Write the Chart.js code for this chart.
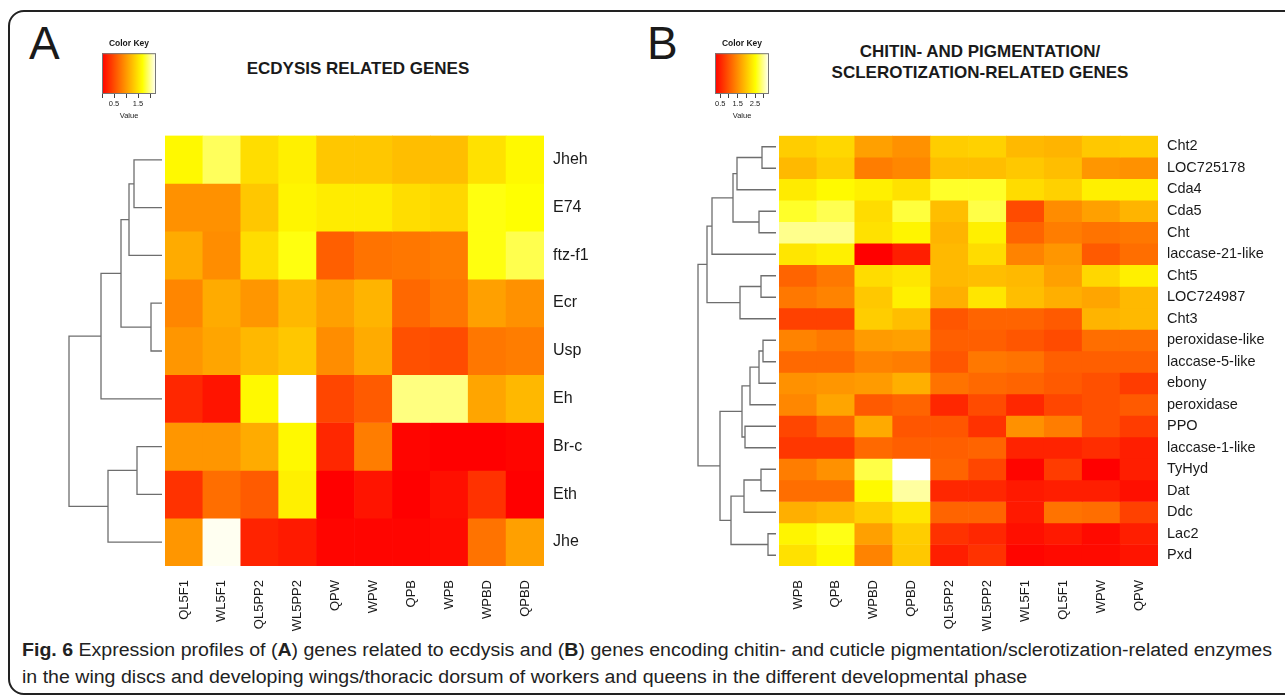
<!DOCTYPE html>
<html>
<head>
<meta charset="utf-8">
<script src="https://cdn.jsdelivr.net/npm/chart.js@4.4.1/dist/chart.umd.min.js"></script>
<style>
  body { margin: 0; width: 1285px; height: 697px; overflow: hidden; position: relative; background: #fff;
         font-family: "Liberation Sans", Arial, sans-serif; color: #1a1a1a; }
  canvas, .abs { position: absolute; }
  #frame { left: 8px; top: 10px; width: 1300px; height: 681px; border: 2px solid #222; border-radius: 16px; }
  .letter { font-size: 46px; line-height: 46px; }
  .title { font-weight: bold; font-size: 17px; line-height: 21px; text-align: center; transform: translateX(-50%); white-space: nowrap; }
  .cap { left: 22px; font-family: "Liberation Sans Narrow", "Liberation Sans", Arial, sans-serif; font-size: 18px;
         white-space: nowrap; transform-origin: 0 0; color: #222; }
</style>
</head>
<body>
<div id="frame" class="abs"></div>
<div class="abs letter" style="left:29px;top:20px;">A</div>
<div class="abs letter" style="left:647px;top:20px;">B</div>
<div class="abs title" style="left:358px;top:58px;">ECDYSIS RELATED GENES</div>
<div class="abs title" style="left:980px;top:41px;">CHITIN- AND PIGMENTATION/<br>SCLEROTIZATION-RELATED GENES</div>

<canvas id="keyA" width="69" height="83"></canvas>
<canvas id="keyB" width="69" height="83"></canvas>
<canvas id="dendA" width="105" height="430"></canvas>
<canvas id="dendB" width="89" height="430"></canvas>
<canvas id="heatA" width="470" height="500"></canvas>
<canvas id="heatB" width="505" height="500"></canvas>

<div id="cap1" class="abs cap" style="top:640px;"><b>Fig. 6</b> Expression profiles of (<b>A</b>) genes related to ecdysis and (<b>B</b>) genes encoding chitin- and cuticle pigmentation/sclerotization-related enzymes</div>
<div id="cap2" class="abs cap" style="top:667px;">in the wing discs and developing wings/thoracic dorsum of workers and queens in the different developmental phase</div>

<script>
// panel A: ecdysis related genes
const genesA = ['Jheh', 'E74', 'ftz-f1', 'Ecr', 'Usp', 'Eh', 'Br-c', 'Eth', 'Jhe'];
const samplesA = ['QL5F1', 'WL5F1', 'QL5PP2', 'WL5PP2', 'QPW', 'WPW', 'QPB', 'WPB', 'WPBD', 'QPBD'];
const valuesA = [
  [1.65, 1.89, 1.46, 1.59, 1.32, 1.32, 1.26, 1.26, 1.49, 1.65],
  [0.96, 0.96, 1.32, 1.62, 1.56, 1.56, 1.46, 1.42, 1.72, 1.69],
  [1.13, 0.93, 1.46, 1.72, 0.63, 0.76, 0.79, 0.83, 1.72, 1.86],
  [0.89, 1.13, 0.99, 1.22, 1.06, 1.19, 0.69, 0.79, 1.06, 0.96],
  [0.99, 1.09, 1.22, 1.32, 0.93, 1.13, 0.53, 0.50, 0.79, 0.83],
  [0.26, 0.13, 1.65, 2.25, 0.46, 0.60, 1.97, 1.97, 1.09, 1.22],
  [0.99, 0.99, 1.13, 1.65, 0.26, 0.83, 0.03, 0.00, 0.00, 0.03],
  [0.33, 0.73, 0.60, 1.59, 0.00, 0.13, 0.00, 0.10, 0.33, 0.00],
  [0.99, 2.22, 0.23, 0.17, 0.03, 0.03, 0.03, 0.07, 0.76, 1.06]
];
// row dendrogram A, hclust style (negative = leaf, positive = earlier merge)
const mergesA = [[-1, -2], [1, -3], [-4, -5], [2, 3], [4, -6], [-7, -8], [6, -9], [5, 7]];
const heightsA = [28, 33, 11, 41, 61, 25, 54, 93];
const keyMinA = 0, keyMaxA = 2.25;
const keyTicksA = [0, 0.5, 1, 1.5, 2];
const keyLabelsA = [0.5, 1.5];

// panel B: chitin and pigmentation/sclerotization genes
const genesB = ['Cht2', 'LOC725178', 'Cda4', 'Cda5', 'Cht', 'laccase-21-like', 'Cht5', 'LOC724987', 'Cht3',
  'peroxidase-like', 'laccase-5-like', 'ebony', 'peroxidase', 'PPO', 'laccase-1-like', 'TyHyd', 'Dat', 'Ddc', 'Lac2', 'Pxd'];
const samplesB = ['WPB', 'QPB', 'WPBD', 'QPBD', 'QL5PP2', 'WL5PP2', 'WL5F1', 'QL5F1', 'WPW', 'QPW'];
const valuesB = [
  [2.07, 2.16, 1.66, 1.52, 2.07, 2.11, 1.89, 1.84, 2.02, 2.07],
  [1.89, 2.07, 1.34, 1.43, 1.93, 1.93, 2.02, 1.93, 1.57, 1.52],
  [2.34, 2.48, 2.39, 2.25, 2.65, 2.65, 2.21, 2.11, 2.39, 2.39],
  [2.65, 2.77, 2.21, 2.71, 1.93, 2.74, 0.88, 1.48, 1.66, 1.84],
  [2.95, 2.95, 2.25, 2.43, 1.84, 2.39, 1.11, 1.34, 1.25, 1.29],
  [2.30, 2.39, 0.20, 0.47, 1.89, 2.21, 1.39, 1.57, 1.02, 1.20],
  [1.11, 1.29, 2.21, 2.30, 1.89, 1.93, 1.89, 1.66, 2.16, 2.39],
  [1.29, 1.39, 2.02, 2.39, 1.80, 2.30, 1.93, 1.80, 1.70, 1.89],
  [0.79, 0.79, 2.07, 1.93, 0.98, 1.11, 1.11, 1.02, 1.84, 1.89],
  [1.39, 1.29, 1.61, 1.66, 1.07, 1.07, 0.98, 0.88, 1.20, 1.20],
  [1.16, 1.16, 1.39, 1.34, 0.98, 1.29, 1.25, 1.07, 1.07, 1.07],
  [1.52, 1.57, 1.61, 1.80, 1.25, 1.16, 1.11, 1.02, 0.93, 0.75],
  [1.43, 1.70, 1.02, 1.11, 0.56, 0.88, 0.56, 0.84, 0.93, 1.02],
  [0.84, 1.11, 1.75, 0.98, 0.98, 0.66, 1.52, 1.34, 0.93, 0.75],
  [0.70, 0.70, 1.16, 1.07, 1.07, 1.11, 0.52, 0.52, 0.61, 0.47],
  [1.34, 1.52, 2.74, 3.30, 1.11, 0.84, 0.25, 0.75, 0.20, 0.47],
  [1.20, 1.20, 2.48, 3.01, 0.56, 0.56, 0.43, 0.47, 0.47, 0.34],
  [1.80, 1.89, 2.07, 2.30, 1.11, 1.11, 0.43, 1.25, 1.20, 0.79],
  [2.43, 2.59, 1.66, 2.07, 0.66, 0.56, 0.34, 0.43, 0.29, 0.47],
  [2.25, 2.48, 1.39, 2.02, 0.47, 0.66, 0.25, 0.29, 0.29, 0.38]
];
const mergesB = [[-1, -2], [1, -3], [-4, -5], [2, 3], [4, -6], [-7, -8], [6, -9], [5, 7],
  [-10, -11], [9, -12], [10, -13], [-14, -15], [11, 12], [-16, -17], [14, -18], [-19, -20], [15, 16], [13, 17], [8, 18]];
const heightsB = [14, 39, 17, 43, 64, 15, 36, 69, 13, 17, 26, 31, 34, 15, 32, 8, 45, 56, 78];
const keyMinB = 0.2, keyMaxB = 3.3;
const keyTicksB = [0.5, 1, 1.5, 2, 2.5, 3];
const keyLabelsB = [0.5, 1.5, 2.5];

Chart.defaults.font.family = '"Liberation Sans", Arial, sans-serif';
Chart.defaults.color = '#1a1a1a';

// heat.colors-like ramp: red -> orange -> yellow -> white
function heat(v, lo, hi) {
  const t = Math.min(1, Math.max(0, (v - lo) / (hi - lo)));
  if (t < 0.75) return 'rgb(255,' + Math.round(255 * t / 0.75) + ',0)';
  return 'rgb(255,255,' + Math.round(255 * (t - 0.75) / 0.25) + ')';
}

// build the chart, then size and move its canvas so that the plot area sits at (x, y, w, h)
function placeChart(id, makeConfig, x, y, w, h) {
  const cv = document.getElementById(id);
  let chart = new Chart(cv, makeConfig());
  for (let k = 0; k < 3; k++) {
    const a = chart.chartArea;
    const W = Math.round(chart.width + w - (a.right - a.left));
    const H = Math.round(chart.height + h - (a.bottom - a.top));
    if (W === chart.width && H === chart.height) break;
    chart.destroy();
    cv.width = W; cv.height = H;
    chart = new Chart(cv, makeConfig());
  }
  const a = chart.chartArea;
  cv.style.left = (x - a.left) + 'px';
  cv.style.top = (y - a.top) + 'px';
  return chart;
}

function heatmapConfig(rows, cols, vals, lo, hi, rowFont) {
  return {
    type: 'bar',
    data: {
      labels: cols,
      datasets: rows.map((r, i) => ({
        label: r,
        data: cols.map(() => [i, i + 1]),
        backgroundColor: vals[i].map(v => heat(v, lo, hi)),
        borderWidth: 0,
        grouped: false,
        barPercentage: 1,
        categoryPercentage: 1
      }))
    },
    options: {
      responsive: false, maintainAspectRatio: false, animation: false,
      layout: { padding: 0 },
      plugins: { legend: { display: false }, tooltip: { enabled: false } },
      scales: {
        x: {
          grid: { display: false }, border: { display: false },
          ticks: { autoSkip: false, minRotation: 90, maxRotation: 90, padding: 6, font: { size: 13 } },
          afterFit: s => { s.height = 70; }
        },
        y: { display: false, min: 0, max: rows.length, reverse: true },
        rows: {
          type: 'category', labels: rows, position: 'right', offset: true,
          grid: { display: false, drawTicks: false }, border: { display: false },
          ticks: { autoSkip: false, padding: 9, font: { size: rowFont } },
          afterFit: s => { s.width = 120; }
        }
      }
    }
  };
}

function dendrogramConfig(merges, heights, n, hMax) {
  const nodes = [];
  const get = m => m < 0 ? { h: 0, y: -m - 0.5 } : nodes[m - 1];
  const sets = merges.map((m, i) => {
    const a = get(m[0]), b = get(m[1]), h = heights[i];
    nodes.push({ h: h, y: (a.y + b.y) / 2 });
    return {
      data: [{ x: a.h, y: a.y }, { x: h, y: a.y }, { x: h, y: b.y }, { x: b.h, y: b.y }],
      showLine: true, borderColor: '#6e6e6e', borderWidth: 1.3, pointRadius: 0, clip: false
    };
  });
  return {
    type: 'scatter',
    data: { datasets: sets },
    options: {
      responsive: false, maintainAspectRatio: false, animation: false, layout: { padding: 0 },
      plugins: { legend: { display: false }, tooltip: { enabled: false } },
      scales: {
        x: { type: 'linear', display: false, min: -3, max: hMax, reverse: true },
        y: { type: 'linear', display: false, min: 0, max: n, reverse: true }
      }
    }
  };
}

const gradientBox = {
  id: 'gradientBox',
  beforeDatasetsDraw(chart, args, opts) {
    const a = chart.chartArea, ctx = chart.ctx;
    const g = ctx.createLinearGradient(a.left, 0, a.right, 0);
    for (let k = 0; k <= 20; k++) g.addColorStop(k / 20, heat(opts.lo + (opts.hi - opts.lo) * k / 20, opts.lo, opts.hi));
    ctx.save();
    ctx.fillStyle = g;
    ctx.fillRect(a.left, a.top, a.right - a.left, a.bottom - a.top);
    ctx.strokeStyle = '#777';
    ctx.lineWidth = 1;
    ctx.strokeRect(a.left + 0.5, a.top + 0.5, a.right - a.left - 1, a.bottom - a.top - 1);
    ctx.restore();
  }
};

function colorKeyConfig(lo, hi, ticks, labels) {
  return {
    type: 'scatter',
    data: { datasets: [] },
    plugins: [gradientBox],
    options: {
      responsive: false, maintainAspectRatio: false, animation: false,
      layout: { padding: { left: 7, right: 7 } },
      plugins: {
        legend: { display: false }, tooltip: { enabled: false },
        title: { display: true, text: 'Color Key', font: { size: 8.5, weight: 'bold' }, padding: { top: 3, bottom: 4 } },
        gradientBox: { lo: lo, hi: hi }
      },
      scales: {
        x: {
          type: 'linear', min: lo, max: hi,
          grid: { display: true, drawOnChartArea: false, tickLength: 4, color: '#444' },
          border: { display: false },
          afterBuildTicks: s => { s.ticks = ticks.map(v => ({ value: v })); },
          ticks: { autoSkip: false, minRotation: 0, maxRotation: 0, padding: 1, font: { size: 7.5 },
                   callback: v => labels.includes(v) ? v.toFixed(1) : '' },
          title: { display: true, text: 'Value', font: { size: 7.5 }, padding: { top: 0, bottom: 0 } },
          afterFit: s => { s.height = 26; }
        },
        y: { display: false, min: 0, max: 1 }
      }
    }
  };
}

placeChart('keyA', () => colorKeyConfig(keyMinA, keyMaxA, keyTicksA, keyLabelsA), 102, 53, 54, 41);
placeChart('keyB', () => colorKeyConfig(keyMinB, keyMaxB, keyTicksB, keyLabelsB), 715, 53, 54, 41);
placeChart('dendA', () => dendrogramConfig(mergesA, heightsA, genesA.length, 102), 60, 136, 105, 430);
placeChart('dendB', () => dendrogramConfig(mergesB, heightsB, genesB.length, 86), 690, 136, 89, 430);
placeChart('heatA', () => heatmapConfig(genesA, samplesA, valuesA, keyMinA, keyMaxA, 16), 165, 136, 379, 430);
placeChart('heatB', () => heatmapConfig(genesB, samplesB, valuesB, keyMinB, keyMaxB, 14.5), 779, 136, 379, 430);

// fit the caption to the width of the original line
const c1 = document.getElementById('cap1'), c2 = document.getElementById('cap2');
const sx = 1250 / c1.getBoundingClientRect().width;
c1.style.transform = c2.style.transform = 'scaleX(' + sx + ')';
</script>
</body>
</html>
